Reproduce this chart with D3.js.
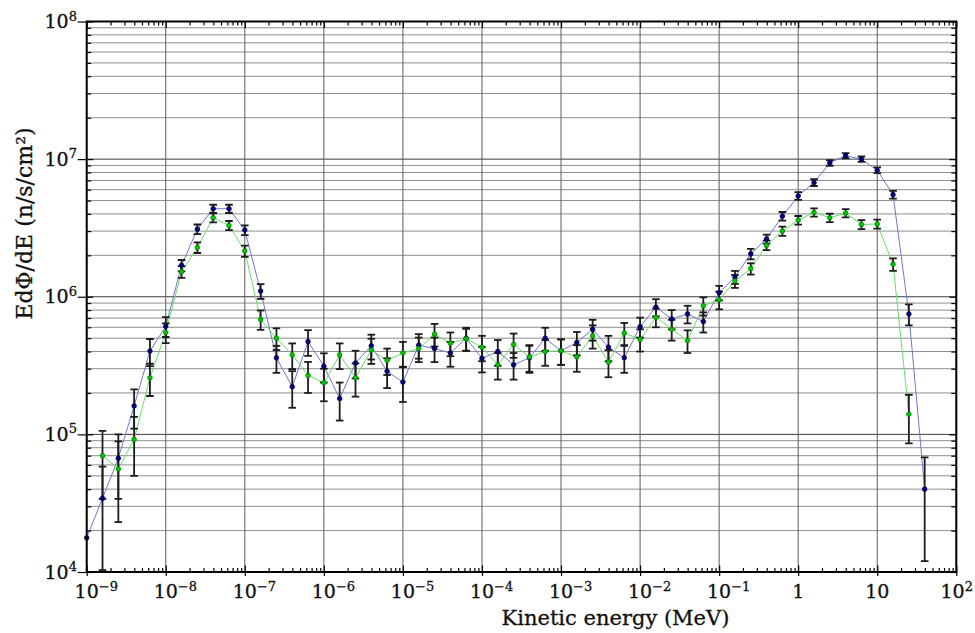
<!DOCTYPE html>
<html>
<head>
<meta charset="utf-8">
<script src="https://cdn.jsdelivr.net/npm/d3@7"></script>
<style>
  body { margin: 0; background: #fff; }
  svg { display: block; }
</style>
</head>
<body>
<div id="chart"></div>
<script>
// bin centres, MeV (5 per decade)
const energies = [
  1e-9, 1.585e-9, 2.512e-9, 3.981e-9, 6.310e-9,
  1e-8, 1.585e-8, 2.512e-8, 3.981e-8, 6.310e-8,
  1e-7, 1.585e-7, 2.512e-7, 3.981e-7, 6.310e-7,
  1e-6, 1.585e-6, 2.512e-6, 3.981e-6, 6.310e-6,
  1e-5, 1.585e-5, 2.512e-5, 3.981e-5, 6.310e-5,
  1e-4, 1.585e-4, 2.512e-4, 3.981e-4, 6.310e-4,
  1e-3, 1.585e-3, 2.512e-3, 3.981e-3, 6.310e-3,
  1e-2, 1.585e-2, 2.512e-2, 3.981e-2, 6.310e-2,
  0.1, 0.1585, 0.2512, 0.3981, 0.6310,
  1, 1.585, 2.512, 3.981, 6.310,
  10, 15.85, 25.12, 39.81
];

// navy series
const fluxBlue = [
  1.77e4, 3.43e4, 6.7e4, 1.61e5, 4.03e5,
  6.1e5, 1.69e6, 3.1e6, 4.36e6, 4.36e6,
  3.05e6, 1.1e6, 3.6e5, 2.22e5, 4.72e5,
  3.13e5, 1.82e5, 3.3e5, 4.4e5, 2.87e5,
  2.4e5, 4.45e5, 4.2e5, 3.9e5, 5.0e5,
  3.57e5, 4.0e5, 3.2e5, 3.6e5, 5.0e5,
  4.05e5, 4.65e5, 5.8e5, 4.3e5, 3.6e5,
  6.05e5, 8.4e5, 6.9e5, 7.5e5, 6.6e5,
  1.07e6, 1.39e6, 2.05e6, 2.63e6, 3.85e6,
  5.4e6, 6.76e6, 9.4e6, 1.06e7, 1.0e7,
  8.3e6, 5.52e6, 7.5e5, 4.0e4
];
const errBlue = [
  0, 2.4e4, 3.3e4, 5.1e4, 9e4,
  1e5, 1.6e5, 2.5e5, 3e5, 3e5,
  2.5e5, 1.35e5, 8e4, 6.6e4, 1e5,
  7.5e4, 5.6e4, 7.5e4, 9e4, 7e4,
  6.8e4, 9e4, 8.5e4, 8e4, 9.5e4,
  7.5e4, 8.5e4, 7e4, 8e4, 9.5e4,
  8.5e4, 9e4, 1e5, 9e4, 8e4,
  1e5, 1.2e5, 1.1e5, 1.1e5, 1.1e5,
  1.3e5, 1.5e5, 1.8e5, 2e5, 2.8e5,
  3.5e5, 3.8e5, 4.5e5, 4.5e5, 4.5e5,
  4e5, 3.5e5, 1.3e5, 2.8e4
];

// green series
const fluxGreen = [
  null, 7.0e4, 5.6e4, 9.2e4, 2.58e5,
  5.5e5, 1.52e6, 2.28e6, 3.75e6, 3.3e6,
  2.15e6, 6.85e5, 5.0e5, 3.78e5, 2.68e5,
  2.37e5, 3.78e5, 2.58e5, 4.1e5, 3.45e5,
  3.9e5, 4.2e5, 5.35e5, 4.6e5, 4.95e5,
  4.3e5, 3.2e5, 4.5e5, 3.65e5, 4.0e5,
  4.05e5, 3.65e5, 5.2e5, 3.35e5, 5.45e5,
  4.9e5, 7.1e5, 5.8e5, 4.8e5, 8.6e5,
  9.5e5, 1.3e6, 1.6e6, 2.37e6, 3.0e6,
  3.6e6, 4.1e6, 3.75e6, 4.05e6, 3.35e6,
  3.38e6, 1.72e6, 1.4e5, null
];
const errGreen = [
  0, 3.6e4, 3.3e4, 4.2e4, 6.8e4,
  9e4, 1.5e5, 2e5, 2.8e5, 2.5e5,
  2e5, 1.1e5, 9e4, 8e4, 6.8e4,
  6.3e4, 8e4, 7e4, 8.5e4, 7.5e4,
  8e4, 8.5e4, 1e5, 9e4, 9e4,
  9e4, 7e4, 9e4, 8e4, 8.5e4,
  8.5e4, 8e4, 1e5, 7.5e4, 1e5,
  9e4, 1.1e5, 1e5, 9e4, 1.3e5,
  1.4e5, 1.4e5, 1.5e5, 1.9e5, 2.3e5,
  2.6e5, 2.8e5, 2.6e5, 2.8e5, 2.5e5,
  2.5e5, 1.8e5, 5.4e4, 0
];

const xTickLabels = ["10^−9", "10^−8", "10^−7", "10^−6", "10^−5", "10^−4",
                     "10^−3", "10^−2", "10^−1", "1", "10", "10^2"];
const yTickLabels = ["10^4", "10^5", "10^6", "10^7", "10^8"];
const xTitle = "Kinetic energy (MeV)";
const yTitle = "EdΦ/dE (n/s/cm²)";

const FONT = '"DejaVu Serif", "Liberation Serif", serif';
const INK = "#111";
const width = 975, height = 633;
const margin = { top: 21.5, right: 18.7, bottom: 61, left: 86.7 };

const x = d3.scaleLog().domain([1e-9, 1e2]).range([margin.left, width - margin.right]);
const y = d3.scaleLog().domain([1e4, 1e8]).range([height - margin.bottom, margin.top]);

function decadeTicks(lo, hi) {
  const major = [], minor = [];
  for (let e = lo; e <= hi; e++) {
    major.push(Math.pow(10, e));
    if (e < hi) for (let m = 2; m <= 9; m++) minor.push(m * Math.pow(10, e));
  }
  return { major, minor };
}
const xt = decadeTicks(-9, 2);
const yt = decadeTicks(4, 8);

const svg = d3.select("#chart").append("svg")
  .attr("width", width)
  .attr("height", height)
  .style("font-family", FONT);

svg.append("defs").append("clipPath").attr("id", "plot-clip")
  .append("rect")
  .attr("x", margin.left).attr("y", margin.top)
  .attr("width", width - margin.left - margin.right)
  .attr("height", height - margin.top - margin.bottom);

const x0 = margin.left, x1 = width - margin.right;
const y0 = height - margin.bottom, y1 = margin.top;

// grid
const grid = svg.append("g");
grid.selectAll(".hminor").data(yt.minor).enter().append("line")
  .attr("x1", x0).attr("x2", x1)
  .attr("y1", d => y(d)).attr("y2", d => y(d))
  .attr("stroke", "#8e8e8e").attr("stroke-width", 1);
grid.selectAll(".hmajor").data(yt.major).enter().append("line")
  .attr("x1", x0).attr("x2", x1)
  .attr("y1", d => y(d)).attr("y2", d => y(d))
  .attr("stroke", "#3c3c3c").attr("stroke-width", 1);
grid.selectAll(".vmajor").data(xt.major).enter().append("line")
  .attr("y1", y0).attr("y2", y1)
  .attr("x1", d => x(d)).attr("x2", d => x(d))
  .attr("stroke", "#5c5c5c").attr("stroke-width", 1);

// series
const blue = energies.map((e, i) => ({ e, v: fluxBlue[i], err: errBlue[i] }));
const green = energies.map((e, i) => ({ e, v: fluxGreen[i], err: errGreen[i] }))
  .filter(d => d.v != null);

const line = d3.line().x(d => x(d.e)).y(d => y(d.v));
const plot = svg.append("g").attr("clip-path", "url(#plot-clip)");

plot.append("path").datum(blue).attr("d", line)
  .attr("fill", "none").attr("stroke", "#7474d2").attr("stroke-width", 1);
plot.append("path").datum(green).attr("d", line)
  .attr("fill", "none").attr("stroke", "#66e066").attr("stroke-width", 1);

function errorBars(data) {
  const g = plot.append("g").attr("stroke", "#1c1c1c").attr("stroke-width", 1.8);
  const withErr = data.filter(d => d.err > 0);
  const hi = d => y(d.v + d.err);
  const lo = d => y(Math.max(d.v - d.err, 1e3));
  g.selectAll(".bar").data(withErr).enter().append("line")
    .attr("x1", d => x(d.e)).attr("x2", d => x(d.e))
    .attr("y1", hi).attr("y2", lo);
  g.selectAll(".capT").data(withErr).enter().append("line")
    .attr("x1", d => x(d.e) - 3.8).attr("x2", d => x(d.e) + 3.8)
    .attr("y1", hi).attr("y2", hi);
  g.selectAll(".capB").data(withErr.filter(d => d.v - d.err > 0)).enter().append("line")
    .attr("x1", d => x(d.e) - 3.8).attr("x2", d => x(d.e) + 3.8)
    .attr("y1", lo).attr("y2", lo);
}
errorBars(blue);
errorBars(green);

function markers(data, fill, stroke) {
  svg.append("g").selectAll("circle").data(data).enter().append("circle")
    .attr("cx", d => x(d.e)).attr("cy", d => y(d.v))
    .attr("r", 2.3)
    .attr("fill", fill).attr("stroke", stroke).attr("stroke-width", 0.8);
}
markers(blue, "#00007c", "#000048");
markers(green, "#00c800", "#007a00");

// ticks (inward), major ticks also poke out
const axes = svg.append("g");
function styleAxis(g) {
  g.select(".domain").remove();
  g.selectAll(".tick line").attr("stroke", "#000").attr("stroke-width", 1.2);
}
axes.append("g").attr("transform", `translate(0,${y0})`)
  .call(d3.axisBottom(x).tickValues(xt.minor).tickSize(-4).tickFormat(""))
  .call(styleAxis);
axes.append("g").attr("transform", `translate(0,${y0})`)
  .call(d3.axisBottom(x).tickValues(xt.major).tickSize(-6.5).tickFormat(""))
  .call(styleAxis)
  .call(g => g.selectAll(".tick line").attr("y1", 4));
axes.append("g").attr("transform", `translate(0,${y1})`)
  .call(d3.axisTop(x).tickValues(xt.minor).tickSize(-4).tickFormat(""))
  .call(styleAxis);
axes.append("g").attr("transform", `translate(0,${y1})`)
  .call(d3.axisTop(x).tickValues(xt.major).tickSize(-6.5).tickFormat(""))
  .call(styleAxis);
axes.append("g").attr("transform", `translate(${x0},0)`)
  .call(d3.axisLeft(y).tickValues(yt.minor).tickSize(-4.5).tickFormat(""))
  .call(styleAxis);
axes.append("g").attr("transform", `translate(${x0},0)`)
  .call(d3.axisLeft(y).tickValues(yt.major).tickSize(-6.5).tickFormat(""))
  .call(styleAxis)
  .call(g => g.selectAll(".tick line").attr("x1", -9));
axes.append("g").attr("transform", `translate(${x1},0)`)
  .call(d3.axisRight(y).tickValues(yt.minor).tickSize(-5).tickFormat(""))
  .call(styleAxis);
axes.append("g").attr("transform", `translate(${x1},0)`)
  .call(d3.axisRight(y).tickValues(yt.major).tickSize(-7).tickFormat(""))
  .call(styleAxis);

// frame
svg.append("rect")
  .attr("x", x0).attr("y", y1)
  .attr("width", x1 - x0).attr("height", y0 - y1)
  .attr("fill", "none").attr("stroke", "#000").attr("stroke-width", 2);

// text helper: a hair of stroke makes the serif look as heavy as the original
function ink(sel, size) {
  return sel.attr("font-family", FONT).attr("font-size", size)
    .attr("fill", INK).attr("stroke", INK).attr("stroke-width", 0.3);
}

// tick labels with superscripts
const baseSize = 19, supSize = 13;
xt.major.forEach((v, i) => {
  const [base, exp] = xTickLabels[i].split("^");
  const t = ink(svg.append("text"), baseSize).attr("y", y0 + 26);
  const b = t.append("tspan").text(base);
  if (exp) t.append("tspan").attr("font-size", supSize).attr("dy", -7.5).text(exp);
  const bw = b.node().getComputedTextLength();
  const tw = t.node().getComputedTextLength();
  // keep the last label inside the window
  t.attr("x", Math.min(x(v) - bw / 2, width - 2 - tw));
});
yt.major.forEach((v, i) => {
  const [base, exp] = yTickLabels[i].split("^");
  const t = ink(svg.append("text"), baseSize)
    .attr("x", 77).attr("y", y(v) + 6.5)
    .attr("text-anchor", "end");
  t.append("tspan").text(base);
  if (exp) t.append("tspan").attr("font-size", supSize).attr("dy", -7.5).text(exp);
});

// axis titles
ink(svg.append("text"), 21)
  .attr("x", 615.5).attr("y", 625)
  .attr("text-anchor", "middle")
  .text(xTitle);
ink(svg.append("text"), 22)
  .attr("transform", "translate(32,223.5) rotate(-90)")
  .attr("text-anchor", "middle")
  .text(yTitle);
</script>
</body>
</html>
